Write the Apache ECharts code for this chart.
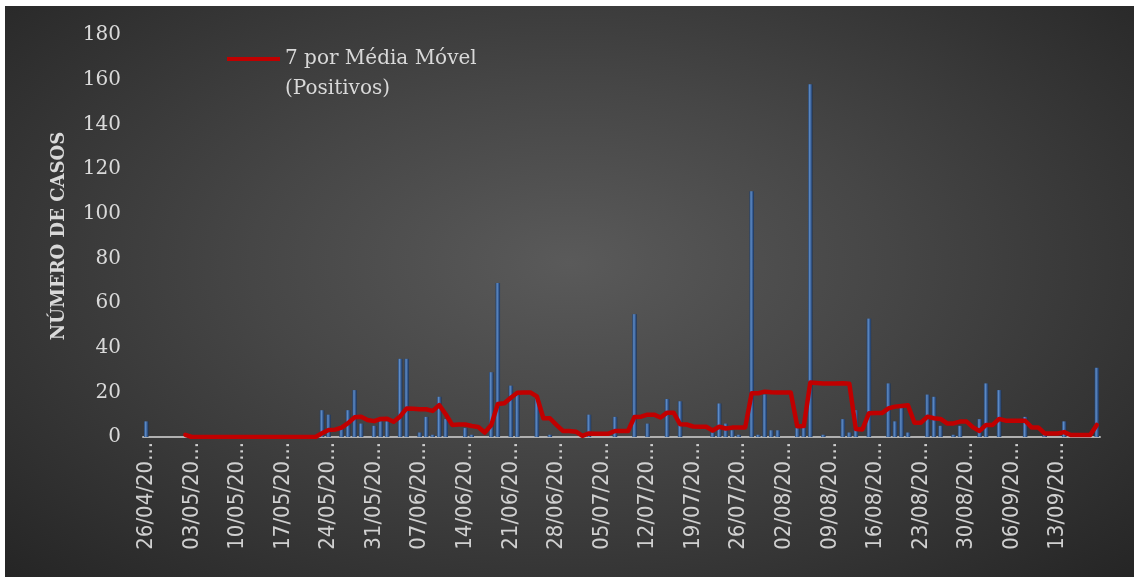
<!DOCTYPE html>
<html>
<head>
<meta charset="utf-8">
<script src="https://cdn.jsdelivr.net/npm/echarts@6/dist/echarts.min.js"></script>
<style>
  html, body { margin: 0; padding: 0; background: #ffffff; }
  #chart {
    position: absolute;
    left: 5px; top: 6px;
    width: 1129px; height: 571px;
    background: radial-gradient(ellipse farthest-corner at 50% 45%, #5a5a5a 0%, #464646 40%, #252525 100%);
  }
</style>
</head>
<body>
<div id="chart"></div>
<script>
// dias de 26/04/2020 a 19/09/2020
var startDate = new Date(2020, 3, 26)
var numDays = 147
var dias = []
for (var d = 0; d < numDays; d++) {
  var dt = new Date(startDate.getFullYear(), startDate.getMonth(), startDate.getDate() + d)
  var dd = ('0' + dt.getDate()).slice(-2)
  var mm = ('0' + (dt.getMonth() + 1)).slice(-2)
  dias.push(dd + '/' + mm + '/' + dt.getFullYear())
}

// casos positivos por dia (uma linha por semana)
var positivos = [
  7, 0, 0, 0, 0, 0, 0,
  0, 0, 0, 0, 0, 0, 0,
  0, 0, 0, 0, 0, 0, 0,
  0, 0, 0, 0, 0, 0, 12,
  10, 0, 5, 12, 21, 6, 0,
  5, 7, 7, 0, 35, 35, 0,
  2, 9, 1, 18, 8, 0, 0,
  4, 1, 0, 0, 29, 69, 0,
  23, 19, 0, 0, 17, 0, 1,
  0, 0, 0, 0, 0, 10, 0,
  0, 0, 9, 0, 0, 55, 0,
  6, 0, 0, 17, 0, 16, 0,
  0, 0, 0, 2, 15, 6, 3,
  1, 0, 110, 1, 19, 3, 3,
  0, 0, 4, 5, 158, 0, 1,
  0, 0, 8, 2, 12, 0, 53,
  0, 0, 24, 7, 13, 2, 0,
  0, 19, 18, 5, 0, 1, 5,
  0, 0, 8, 24, 0, 21, 0,
  0, 0, 9, 0, 0, 1, 0,
  0, 7, 0, 0, 0, 0, 31
]

// média móvel de 7 dias
var mediaMovel = [
  null, null, null, null, null, null, 1.0,
  0, 0, 0, 0, 0, 0, 0,
  0, 0, 0, 0, 0, 0, 0,
  0, 0, 0, 0, 0, 0, 1.7,
  3.1, 3.3, 4.2, 6.2, 8.8, 9.1, 7.6,
  7.1, 8.1, 8.2, 6.8, 9.2, 12.8, 12.6,
  12.4, 12.4, 11.7, 14.3, 10.2, 5.4, 5.6,
  5.6, 4.9, 4.5, 2.0, 5.4, 14.8, 15.1,
  17.6, 19.8, 19.9, 19.9, 18.2, 8.4, 8.4,
  5.4, 2.7, 2.7, 2.4, 0.5, 1.6, 1.5,
  1.5, 1.5, 2.7, 2.7, 2.7, 9.0, 9.1,
  10.0, 10.0, 8.7, 10.9, 10.9, 5.7, 5.6,
  4.7, 4.6, 4.6, 2.9, 4.6, 3.8, 4.2,
  4.3, 4.3, 19.6, 19.6, 20.3, 20.0, 19.9,
  19.9, 19.9, 4.8, 4.9, 24.4, 24.2, 24.0,
  24.0, 24.0, 24.1, 23.8, 3.6, 3.4, 10.6,
  10.7, 10.7, 12.8, 13.6, 13.9, 14.2, 6.4,
  6.4, 9.1, 8.4, 8.1, 6.1, 6.1, 6.9,
  6.9, 4.3, 2.7, 5.4, 5.4, 8.1, 7.3,
  7.3, 7.3, 7.3, 4.3, 4.3, 1.6, 1.6,
  1.6, 2.2, 0.9, 0.9, 0.9, 0.9, 5.4
]

var nomeMedia = '7 por Média Móvel (Positivos)'

const myChart = echarts.init(document.getElementById('chart'))
myChart.setOption({
  backgroundColor: 'transparent',
  animation: false,
  legend: {
    data: [nomeMedia],
    left: 222,
    top: 8,
    padding: 0,
    icon: 'rect',
    itemWidth: 53,
    itemHeight: 4,
    itemGap: 4,
    // linha vazia antes para o traço ficar alinhado com a 1a linha do texto
    formatter: function (name) {
      return '\n' + name.replace(' (', '\n(')
    },
    textStyle: {
      fontFamily: 'DejaVu Serif',
      fontSize: 20,
      color: '#d9d9d9',
      lineHeight: 30
    }
  },
  grid: {
    left: 138,
    right: 34,
    top: 29,
    bottom: 140
  },
  xAxis: {
    type: 'category',
    data: dias,
    boundaryGap: true,
    axisLine: { lineStyle: { color: '#b0b0b0', width: 2 } },
    axisTick: { interval: 6, length: 7, lineStyle: { color: '#b0b0b0', width: 2 } },
    axisLabel: {
      interval: 6,
      rotate: 90,
      margin: 5,
      color: '#d0d0d0',
      fontFamily: 'DejaVu Sans Condensed',
      fontSize: 22,
      formatter: function (v) {
        return v.slice(0, 8) + '...'
      }
    }
  },
  yAxis: {
    type: 'value',
    min: 0,
    max: 180,
    interval: 20,
    name: 'NÚMERO DE CASOS',
    nameLocation: 'middle',
    nameRotate: 90,
    nameGap: 75,
    nameTextStyle: {
      fontFamily: 'DejaVu Serif',
      fontWeight: 'bold',
      fontSize: 18,
      color: '#d9d9d9'
    },
    axisLine: { show: false },
    axisTick: { show: false },
    splitLine: { show: false },
    axisLabel: {
      margin: 22,
      color: '#d9d9d9',
      fontFamily: 'DejaVu Serif',
      fontSize: 20
    }
  },
  series: [
    {
      name: 'Positivos',
      type: 'bar',
      barWidth: 4.5,
      data: positivos,
      itemStyle: {
        color: {
          type: 'linear',
          x: 0, y: 0, x2: 1, y2: 0,
          colorStops: [
            { offset: 0, color: '#22406a' },
            { offset: 0.35, color: '#5f8cc6' },
            { offset: 0.65, color: '#3a619a' },
            { offset: 1, color: '#1b3254' }
          ]
        }
      }
    },
    {
      name: nomeMedia,
      type: 'line',
      data: mediaMovel,
      symbol: 'none',
      connectNulls: false,
      itemStyle: { color: '#c00000' },
      lineStyle: { color: '#c00000', width: 4.5, join: 'round', cap: 'round' }
    }
  ]
})
</script>
</body>
</html>
